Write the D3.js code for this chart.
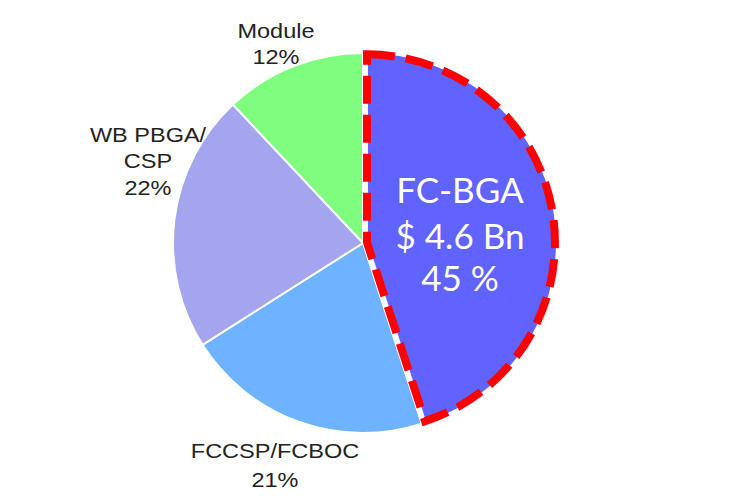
<!DOCTYPE html>
<html>
<head>
<meta charset="utf-8">
<script src="https://cdn.jsdelivr.net/npm/d3@7/dist/d3.min.js"></script>
<style>
  html, body { margin: 0; padding: 0; background: #fff; }
  svg { display: block; }
</style>
</head>
<body>
<svg id="chart" width="738" height="500"></svg>
<script>
// Data
const categories = ["FC-BGA", "FCCSP/FCBOC", "WB PBGA/CSP", "Module"];
const shares = [45, 21, 22, 12];
const labelLines = [
  ["FC-BGA", "$ 4.6 Bn", "45 %"],
  ["FCCSP/FCBOC", "21%"],
  ["WB PBGA/", "CSP", "22%"],
  ["Module", "12%"]
];
const colors = ["#6163FF", "#6DB3FE", "#A5A4EE", "#7FFD7F"];

const svg = d3.select("#chart");
const cx = 363, cy = 243, R = 190;
const g = svg.append("g").attr("transform", `translate(${cx},${cy})`);

const data = categories.map((c, i) => ({ name: c, value: shares[i], lines: labelLines[i], color: colors[i], i }));
const pie = d3.pie().value(d => d.value).sort(null);
const arcs = pie(data);
const arc = d3.arc().innerRadius(0).outerRadius(R);
const dashArc = d3.arc().innerRadius(0).outerRadius(R - 2);

// Other slices
g.selectAll("path.slice")
  .data(arcs.filter(a => a.data.i !== 0))
  .join("path")
  .attr("class", "slice")
  .attr("d", arc)
  .attr("fill", d => d.data.color)
  .attr("stroke", "#fff")
  .attr("stroke-width", 2);

// Highlighted slice (slightly exploded)
const hl = arcs[0];
const mid = (hl.startAngle + hl.endAngle) / 2;
const off = 4;
const hg = g.append("g").attr("transform", `translate(${Math.sin(mid) * off},${-Math.cos(mid) * off})`);
hg.append("path")
  .attr("d", arc(hl))
  .attr("fill", hl.data.color)
  .attr("stroke", "#fff")
  .attr("stroke-width", 2);
hg.append("path")
  .attr("d", dashArc(hl))
  .attr("fill", "none")
  .attr("stroke", "#FF0000")
  .attr("stroke-width", 8)
  .attr("stroke-dasharray", "28 11")
  .attr("stroke-linejoin", "miter");

// Inside label for highlighted slice
const innerY = [203, 249, 291];
hl.data.lines.forEach((t, k) => {
  svg.append("text")
    .attr("text-anchor", "middle")
    .attr("fill", "#fff")
    .attr("x", 460).attr("y", innerY[k])
    .style("font-family", "Lato, 'Open Sans', sans-serif")
    .style("font-size", "35px")
    .text(t);
});

// Outside labels
const outside = [
  { i: 1, x: 275, y: [458, 487] },
  { i: 2, x: 148, y: [142, 168, 195] },
  { i: 3, x: 276, y: [38, 64] }
];
outside.forEach(o => {
  const t = svg.append("text")
    .attr("text-anchor", "middle")
    .attr("fill", "#222")
    .attr("transform", `translate(${o.x},0) scale(1.12,1)`)
    .style("font-family", "Arial, 'Liberation Sans', sans-serif")
    .style("font-size", "21px");
  data[o.i].lines.forEach((line, k) => {
    t.append("tspan").attr("x", 0).attr("y", o.y[k]).text(line);
  });
});
</script>
</body>
</html>
